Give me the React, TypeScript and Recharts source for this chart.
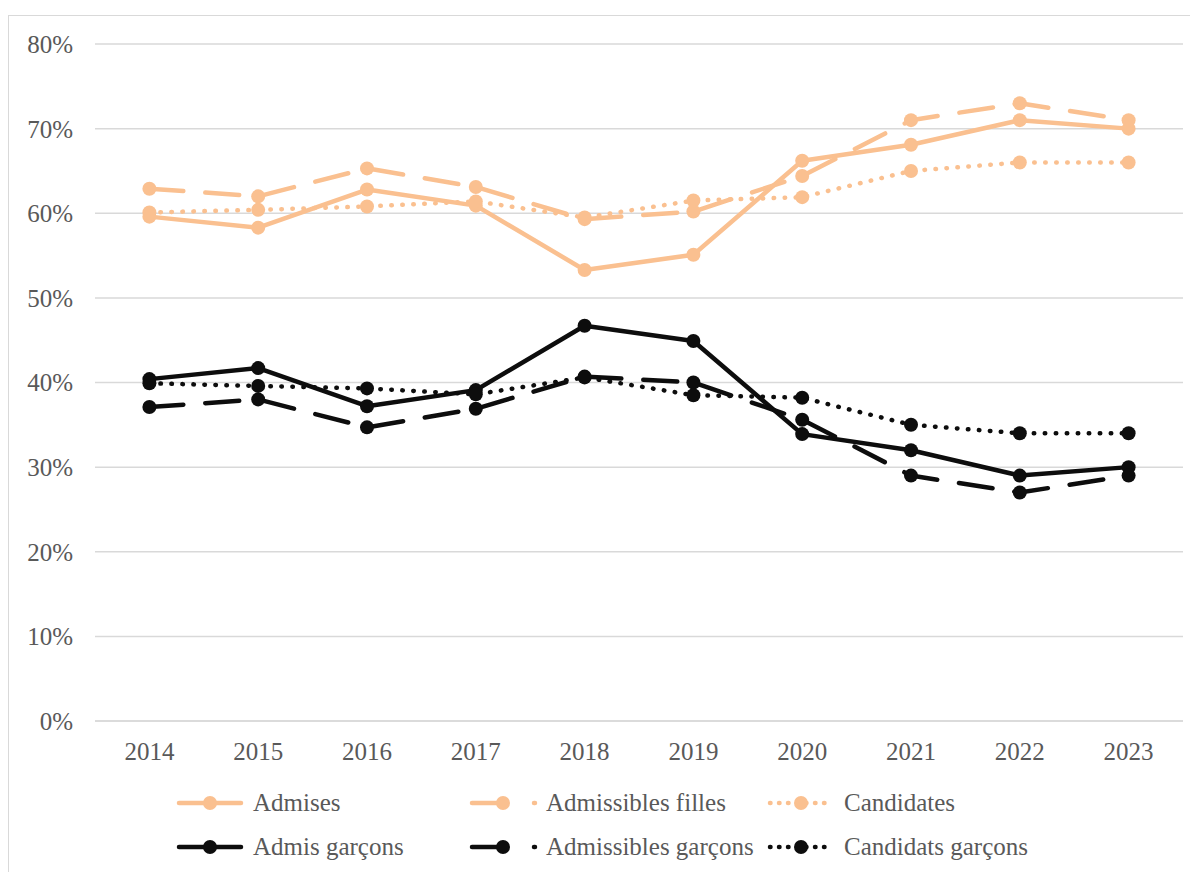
import React from 'react';
import { LineChart, Line, XAxis, YAxis, CartesianGrid } from 'recharts';

const years = ['2014', '2015', '2016', '2017', '2018', '2019', '2020', '2021', '2022', '2023'];
const admises = [59.6, 58.3, 62.8, 60.9, 53.3, 55.1, 66.2, 68.1, 71.0, 70.0];
const admissiblesFilles = [62.9, 62.0, 65.3, 63.1, 59.3, 60.2, 64.4, 71.0, 73.0, 71.0];
const candidates = [60.1, 60.4, 60.8, 61.4, 59.5, 61.5, 61.9, 65.0, 66.0, 66.0];
const admisGarcons = [40.4, 41.7, 37.2, 39.1, 46.7, 44.9, 33.9, 32.0, 29.0, 30.0];
const admissiblesGarcons = [37.1, 38.0, 34.7, 36.9, 40.7, 40.0, 35.6, 29.0, 27.0, 29.0];
const candidatsGarcons = [39.9, 39.6, 39.3, 38.6, 40.6, 38.5, 38.2, 35.0, 34.0, 34.0];
const yTicks = [0, 10, 20, 30, 40, 50, 60, 70, 80];

const PEACH = '#FAC090';
const BLACK = '#0D0D0D';
const SOLID = undefined;
const DASH = '34 22';
const DOT = '0.5 10.5';

const series = [
  { key: 'Admises', values: admises, color: PEACH, dash: SOLID },
  { key: 'Admissibles filles', values: admissiblesFilles, color: PEACH, dash: DASH },
  { key: 'Candidates', values: candidates, color: PEACH, dash: DOT },
  { key: 'Admis garçons', values: admisGarcons, color: BLACK, dash: SOLID },
  { key: 'Admissibles garçons', values: admissiblesGarcons, color: BLACK, dash: DASH },
  { key: 'Candidats garçons', values: candidatsGarcons, color: BLACK, dash: DOT },
];

const data = years.map((y, i) => {
  const row: Record<string, string | number> = { year: y };
  series.forEach((s) => {
    row[s.key] = s.values[i];
  });
  return row;
});

const FONT = '"Liberation Serif", serif';
const TEXT = '#595959';

const LegendBlock = () => (
  <div style={{ position: 'absolute', left: 0, top: 780, width: 1190, height: 84 }}>
    {series.map((s, i) => {
      const col = i % 3;
      const row = Math.floor(i / 3);
      const left = [169, 462, 760][col];
      const top = row * 44;
      return (
        <div
          key={s.key}
          style={{ position: 'absolute', left, top, height: 30, display: 'flex', alignItems: 'center' }}
        >
          <svg width={66} height={20} style={{ overflow: 'visible' }}>
            <line
              x1={2}
              y1={10}
              x2={s.dash === DASH ? 65 : 64}
              y2={10}
              stroke={s.color}
              strokeWidth={4.5}
              strokeLinecap="round"
              strokeDasharray={s.dash === DASH ? '31 31' : s.dash === DOT ? '0.5 8.5' : undefined}
            />
            <circle cx={33} cy={10} r={7} fill={s.color} />
          </svg>
          <span style={{ marginLeft: 10, fontFamily: FONT, fontSize: 25, color: TEXT, whiteSpace: 'nowrap' }}>
            {s.key}
          </span>
        </div>
      );
    })}
  </div>
);

export default function App() {
  return (
    <div style={{ position: 'relative', width: 1190, height: 864, overflow: 'hidden' }}>
      <div
        style={{
          position: 'absolute',
          left: 0,
          top: 7,
          width: 1300,
          height: 1000,
          borderLeft: '1.5px solid #d9d9d9',
          borderTop: '1.5px solid #d9d9d9',
        }}
      />
      <div style={{ position: 'absolute', left: 0, top: 0 }}>
        <LineChart
          width={1190}
          height={864}
          data={data}
          margin={{ top: 36, right: 15, bottom: 91, left: 0 }}
        >
          <CartesianGrid vertical={false} stroke="#d9d9d9" strokeWidth={1.5} />
          <XAxis
            dataKey="year"
            padding={{ left: 54.4, right: 54.4 }}
            axisLine={{ stroke: '#d9d9d9', strokeWidth: 1.5 }}
            tickLine={false}
            tickSize={0}
            tickMargin={21}
            tick={{ fill: TEXT, fontSize: 25, fontFamily: FONT }}
            height={60}
            interval={0}
          />
          <YAxis
            width={87}
            domain={[0, 80]}
            ticks={yTicks}
            interval={0}
            tickFormatter={(v: number) => `${v}%`}
            axisLine={false}
            tickLine={false}
            tickSize={0}
            tickMargin={22}
            tick={{ fill: TEXT, fontSize: 25, fontFamily: FONT }}
          />
          {series.map((s) => (
            <Line
              key={s.key}
              type="linear"
              dataKey={s.key}
              stroke={s.color}
              strokeWidth={4.5}
              strokeLinecap="round"
              strokeLinejoin="round"
              strokeDasharray={s.dash}
              dot={{ r: 7, fill: s.color, stroke: 'none', strokeDasharray: undefined }}
              activeDot={false}
              isAnimationActive={false}
            />
          ))}
        </LineChart>
      </div>
      <LegendBlock />
    </div>
  );
}
